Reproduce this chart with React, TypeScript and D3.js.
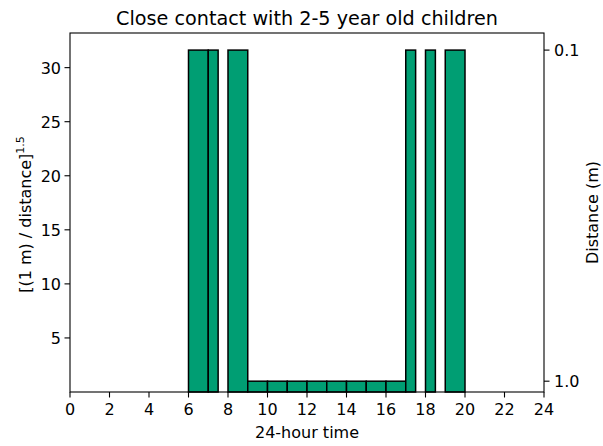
import React from "react";
import * as d3 from "d3";

const starts = [6, 7, 8, 9, 10, 11, 12, 13, 14, 15, 16, 17, 18, 19];
const ends = [7, 7.5, 9, 10, 11, 12, 13, 14, 15, 16, 17, 17.5, 18.5, 20];
const distances = [0.1, 0.1, 0.1, 1, 1, 1, 1, 1, 1, 1, 1, 0.1, 0.1, 0.1];
const xTicks = [0, 2, 4, 6, 8, 10, 12, 14, 16, 18, 20, 22, 24];
const yTicks = [5, 10, 15, 20, 25, 30];
const rightTicks = [0.1, 1.0];

const W = 603, H = 446;
const m = { left: 70, right: 544, top: 33, bottom: 392 };

export default function App() {
  const values = distances.map((d) => Math.pow(1 / d, 1.5));
  const ymax = d3.max(values)! * 1.05;
  const x = d3.scaleLinear().domain([0, 24]).range([m.left, m.right]);
  const y = d3.scaleLinear().domain([0, ymax]).range([m.bottom, m.top]);
  const font = "DejaVu Sans, sans-serif";
  const fs = 16;
  return (
    <svg width={W} height={H} style={{ position: "absolute", left: 0, top: 0 }} fontFamily={font} fill="black">
      <rect width={W} height={H} fill="white" />
      {starts.map((s, i) => (
        <rect
          key={i}
          x={x(s)}
          y={y(values[i])}
          width={x(ends[i]) - x(s)}
          height={y(0) - y(values[i])}
          fill="#009E73"
          stroke="black"
          strokeWidth={1.5}
        />
      ))}
      <rect x={m.left} y={m.top} width={m.right - m.left} height={m.bottom - m.top} fill="none" stroke="black" strokeWidth={1.1} />
      {xTicks.map((t) => (
        <g key={t}>
          <line x1={x(t)} x2={x(t)} y1={m.bottom} y2={m.bottom + 5.5} stroke="black" strokeWidth={1.1} />
          <text x={x(t)} y={415} textAnchor="middle" fontSize={fs}>{t}</text>
        </g>
      ))}
      {yTicks.map((t) => (
        <g key={t}>
          <line x1={m.left - 5.5} x2={m.left} y1={y(t)} y2={y(t)} stroke="black" strokeWidth={1.1} />
          <text x={m.left - 9} y={y(t) + 6} textAnchor="end" fontSize={fs}>{t}</text>
        </g>
      ))}
      {rightTicks.map((d) => {
        const v = Math.pow(1 / d, 1.5);
        return (
          <g key={d}>
            <line x1={m.right} x2={m.right + 5.5} y1={y(v)} y2={y(v)} stroke="black" strokeWidth={1.1} />
            <text x={m.right + 10} y={y(v) + 6} textAnchor="start" fontSize={fs}>{d.toFixed(1)}</text>
          </g>
        );
      })}
      <text x={(m.left + m.right) / 2} y={438} textAnchor="middle" fontSize={fs}>24-hour time</text>
      <text x={(m.left + m.right) / 2} y={25} textAnchor="middle" fontSize={19.2}>Close contact with 2-5 year old children</text>
      <text transform={`translate(31, ${(m.top + m.bottom) / 2 + 2}) rotate(-90)`} textAnchor="middle" fontSize={fs}>
        [(1 m) / distance]<tspan dy={-7} fontSize={11}>1.5</tspan>
      </text>
      <text transform={`translate(598, ${(m.top + m.bottom) / 2}) rotate(-90)`} textAnchor="middle" fontSize={fs}>Distance (m)</text>
    </svg>
  );
}
